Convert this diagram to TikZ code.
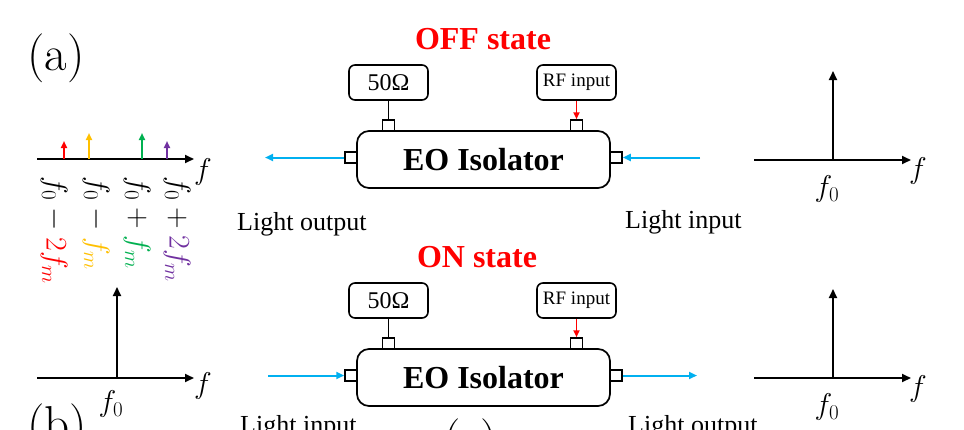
\RequirePackage{fix-cm}
\documentclass[tikz,border=0pt]{standalone}
\usepackage{fontspec}
\newfontfamily\tnr{Liberation Serif}
\usetikzlibrary{arrows.meta}
\definecolor{lblue}{HTML}{00B0F0}
\definecolor{cred}{HTML}{FF0000}
\definecolor{cyel}{HTML}{FFC000}
\definecolor{cgrn}{HTML}{00B050}
\definecolor{cpur}{HTML}{7030A0}
\tikzset{
  eobox/.style={draw, line width=1.7pt, rounded corners=12pt, minimum width=253pt, minimum height=57pt, inner sep=0pt, font=\tnr\bfseries\fontsize{32}{34}\selectfont},
  smallbox/.style={draw, line width=1.6pt, rounded corners=6pt, minimum width=79pt, minimum height=35pt, inner sep=0pt},
  port/.style={draw, line width=1.5pt, minimum width=12pt, minimum height=11pt, inner sep=0pt, fill=white},
  title/.style={text=cred, font=\tnr\bfseries\fontsize{32}{34}\selectfont, anchor=base, inner sep=0pt},
  lbl/.style={font=\tnr\fontsize{26}{30}\selectfont, anchor=base west, inner sep=0pt},
  mth/.style={font=\fontsize{30}{32}\selectfont, inner sep=0pt},
  rot/.style={font=\fontsize{30}{32}\selectfont, inner sep=0pt, rotate=-90, anchor=west},
  panel/.style={font=\fontsize{49}{52}\selectfont, anchor=base west, inner sep=0pt},
  ax/.style={line width=1.8pt, -{Triangle[length=9pt,width=8pt]}},
  spk/.style={line width=1.8pt, -{Triangle[length=7pt,width=6pt]}},
  lightarrow/.style={lblue, line width=2pt, -{Triangle[length=8pt,width=7pt]}},
  rfarrow/.style={cred, line width=1.8pt, -{Triangle[length=7pt,width=6pt]}},
  wire/.style={line width=1.6pt}
}
\begin{document}
\begin{tikzpicture}[x=1pt,y=-1pt]
\clip (0,0) rectangle (964,429);
\fill[white] (0,0) rectangle (964,429);

% panel labels
\node[panel] (pa) at (27,70) {(a)};
\node[panel] (pb) at (27,440) {(b)};
\node[panel] (pc) at (443,455) {(c)};

% ================= OFF state =================
\node[title] (off) at (483,49) {OFF state};
\node[eobox] (eo1) at (483.5,159.5) {EO Isolator};
\node[smallbox, font=\tnr\fontsize{24}{26}\selectfont] (r1) at (388.5,82.5) {50Ω};
\node[smallbox, font=\tnr\fontsize{19}{21}\selectfont] (rf1) at (576.5,82.5) {RF input};
\node[port] (pt1) at (388.5,125.5) {};
\node[port] (pr1) at (576.5,125.5) {};
\node[port] (pl1) at (351,157.5) {};
\node[port] (pq1) at (616,157.5) {};
\draw[wire] (r1.south) -- (pt1.north);
\draw[rfarrow] (rf1.south) -- (pr1.north);
\coordinate (o1) at (265,157.5);
\coordinate (i1) at (700,157.5);
\draw[lightarrow] (pl1.west) -- (o1);
\draw[lightarrow] (i1) -- (pq1.east);
\node[lbl] (lo1) at (237,230) {Light output};
\node[lbl] (li1) at (625,228) {Light input};

% left spectrum (top)
\coordinate (a1s) at (37,159);
\coordinate (a1e) at (194,159);
\draw[ax] (a1s) -- (a1e);
\node[mth] (fa1) at (203,172) {$f$};
\coordinate (s1) at (64,159); \coordinate (s1t) at (64,141);
\coordinate (s2) at (89,159); \coordinate (s2t) at (89,133);
\coordinate (s3) at (142,159); \coordinate (s3t) at (142,133);
\coordinate (s4) at (167,159); \coordinate (s4t) at (167,141);
\draw[spk, cred] (s1) -- (s1t);
\draw[spk, cyel] (s2) -- (s2t);
\draw[spk, cgrn] (s3) -- (s3t);
\draw[spk, cpur] (s4) -- (s4t);
\node[rot] (c1) at (54,176) {$f_0-\textcolor{cred}{2f_m}$};
\node[rot] (c2) at (96,176) {$f_0-\textcolor{cyel}{f_m}$};
\node[rot] (c3) at (137,176) {$f_0+\textcolor{cgrn}{f_m}$};
\node[rot] (c4) at (177,176) {$f_0+\textcolor{cpur}{2f_m}$};

% right spectrum (top)
\coordinate (b1s) at (754,160);
\coordinate (b1e) at (911,160);
\coordinate (b1c) at (833,160);
\coordinate (b1t) at (833,71);
\draw[ax] (b1s) -- (b1e);
\draw[ax] (b1c) -- (b1t);
\node[mth] (fb1) at (918,171) {$f$};
\node[mth] (f0b1) at (827,189) {$f_0$};

% ================= ON state =================
\node[title] (on) at (477,267) {ON state};
\node[eobox] (eo2) at (483.5,377.5) {EO Isolator};
\node[smallbox, font=\tnr\fontsize{24}{26}\selectfont] (r2) at (388.5,300.5) {50Ω};
\node[smallbox, font=\tnr\fontsize{19}{21}\selectfont] (rf2) at (576.5,300.5) {RF input};
\node[port] (pt2) at (388.5,343.5) {};
\node[port] (pr2) at (576.5,343.5) {};
\node[port] (pl2) at (351,375.5) {};
\node[port] (pq2) at (616,375.5) {};
\draw[wire] (r2.south) -- (pt2.north);
\draw[rfarrow] (rf2.south) -- (pr2.north);
\coordinate (i2) at (268,375.5);
\coordinate (o2) at (697,375.5);
\draw[lightarrow] (i2) -- (pl2.west);
\draw[lightarrow] (pq2.east) -- (o2);
\node[lbl] (li2) at (240,433) {Light input};
\node[lbl] (lo2) at (628,433) {Light output};

% left spectrum (bottom)
\coordinate (a2s) at (37,378);
\coordinate (a2e) at (194,378);
\coordinate (a2c) at (117,378);
\coordinate (a2t) at (117,287);
\draw[ax] (a2s) -- (a2e);
\draw[ax] (a2c) -- (a2t);
\node[mth] (fa2) at (203,386) {$f$};
\node[mth] (f0a2) at (111,404) {$f_0$};

% right spectrum (bottom)
\coordinate (b2s) at (754,378);
\coordinate (b2e) at (911,378);
\coordinate (b2c) at (833,378);
\coordinate (b2t) at (833,289);
\draw[ax] (b2s) -- (b2e);
\draw[ax] (b2c) -- (b2t);
\node[mth] (fb2) at (918,389) {$f$};
\node[mth] (f0b2) at (827,407) {$f_0$};
\end{tikzpicture}
\end{document}
